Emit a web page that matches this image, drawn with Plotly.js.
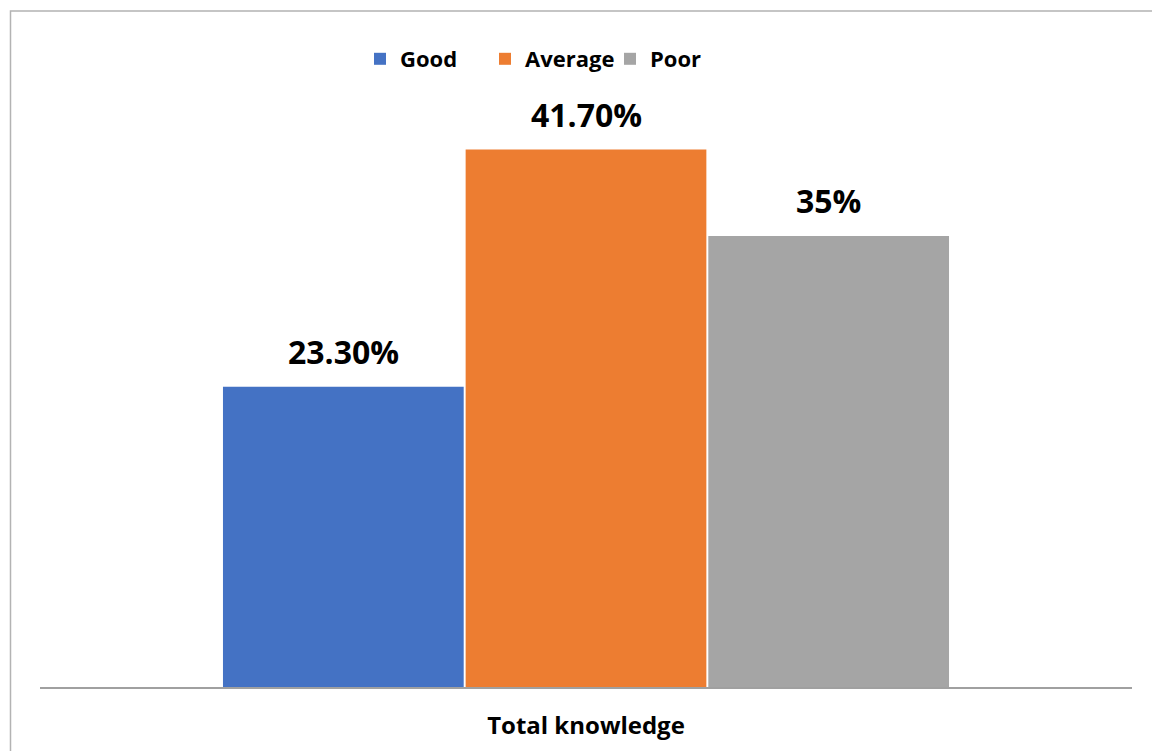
<!DOCTYPE html>
<html>
<head>
<meta charset="utf-8">
<script src="https://cdn.plot.ly/plotly-3.0.1.min.js"></script>
<style>html,body{margin:0;padding:0;background:#fff;}#chart{width:1152px;height:751px;}</style>
</head>
<body>
<div id="chart"></div>
<script>
const categories = ["Total knowledge"];
const seriesNames = ["Good", "Average", "Poor"];
const goodValues = [23.3];
const averageValues = [41.7];
const poorValues = [35];
const valueLabels = ["23.30%", "41.70%", "35%"];
const colors = ["#4472C4", "#ED7D31", "#A5A5A5"];

const seriesValues = [goodValues, averageValues, poorValues];
const FONT = "'Open Sans', Lato, sans-serif";

const traces = seriesNames.map((name, i) => ({
  type: "bar",
  name: name,
  x: categories,
  y: seriesValues[i],
  marker: { color: colors[i] },
  hoverinfo: "none"
}));

// bar centre offsets within the group (bargap 1/3 -> group width 2/3, 3 bars)
const groupWidth = 2 / 3;
const annotations = [];
seriesNames.forEach((name, i) => {
  const offset = -groupWidth / 2 + groupWidth / 3 * (i + 0.5);
  annotations.push({
    x: offset,
    y: seriesValues[i][0],
    xref: "x",
    yref: "y",
    text: valueLabels[i],
    showarrow: false,
    yanchor: "bottom",
    yshift: 12,
    font: { family: FONT, size: 32, color: "#000", weight: "bold" }
  });
});

const plotL = 40, plotR = 20, plotT = 107, plotB = 64;
const plotW = 1152 - plotL - plotR, plotH = 751 - plotT - plotB;
const px = v => (v - plotL) / plotW;
const py = v => (751 - plotB - v) / plotH;

const layout = {
  width: 1152,
  height: 751,
  margin: { l: plotL, r: plotR, t: plotT, b: plotB },
  paper_bgcolor: "#fff",
  plot_bgcolor: "#fff",
  barmode: "group",
  bargap: 1 / 3,
  bargroupgap: 0.008,
  showlegend: true,
  legend: {
    orientation: "h",
    x: px(360), xanchor: "left",
    y: py(59), yanchor: "middle",
    entrywidth: 80,
    font: { family: FONT, size: 22, color: "#000", weight: "bold" },
    itemclick: false
  },
  xaxis: {
    type: "category",
    showline: true,
    linecolor: "#a0a0a0",
    linewidth: 1.5,
    ticks: "",
    ticklabelstandoff: 17,
    tickfont: { family: FONT, size: 24, color: "#000", weight: "bold" },
    showgrid: false,
    zeroline: false,
    fixedrange: true
  },
  yaxis: {
    range: [0, 45],
    showticklabels: false,
    showgrid: false,
    zeroline: false,
    showline: false,
    ticks: "",
    fixedrange: true
  },
  annotations: annotations,
  shapes: [{
    type: "rect",
    xref: "paper", yref: "paper",
    x0: px(10.5), x1: px(1160),
    y0: py(760), y1: py(11),
    line: { color: "#b3b3b3", width: 1.5 },
    fillcolor: "rgba(0,0,0,0)",
    layer: "below"
  }]
};

Plotly.newPlot("chart", traces, layout, { displayModeBar: false, staticPlot: true });
</script>
</body>
</html>
